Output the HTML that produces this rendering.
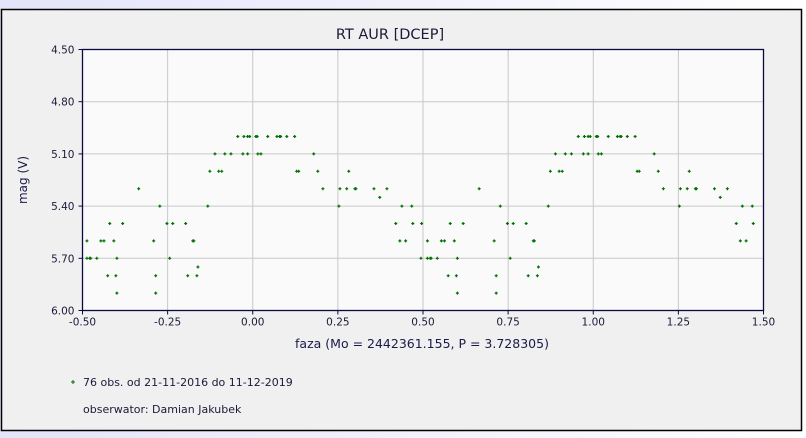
<!DOCTYPE html>
<html><head><meta charset="utf-8">
<style>
html,body{margin:0;padding:0;width:806px;height:438px;overflow:hidden;background:linear-gradient(90deg,#e4e4fa,#ffffff);}
svg{display:block;font-family:"DejaVu Sans","Liberation Sans",sans-serif;}
</style></head>
<body>
<svg id="chart" width="806" height="438">
<rect x="1.5" y="9.5" width="800" height="421" fill="#f0f0f0" stroke="#000" stroke-width="1.5"/>
<text x="390" y="39" text-anchor="middle" font-size="14.5" fill="#1a1a3a">RT AUR [DCEP]</text>
<rect x="82.5" y="49.5" width="681" height="261" fill="#fafafa"/>
<g id="grid"></g>
<g id="pts"></g>
<rect x="82.5" y="49.5" width="681" height="261" fill="none" stroke="#0a0a40" stroke-width="1.3"/>
<g id="axes"></g>
<text x="27" y="180" transform="rotate(-90 27 180)" text-anchor="middle" font-size="12" fill="#1a1a4a">mag (V)</text>
<text x="422" y="348" text-anchor="middle" font-size="12.5" fill="#1a1a4a">faza (Mo = 2442361.155, P = 3.728305)</text>
<g>
<path d="M71,382H75M73,380V384" stroke="#007000" stroke-width="1"/>
<text x="83" y="386" font-size="11" fill="#1a1a3a">76 obs. od 21-11-2016 do 11-12-2019</text>
</g>
<text x="83" y="413" font-size="11" fill="#1a1a3a">obserwator: Damian Jakubek</text>
</svg>
<script>
const phases=[-0.044,-0.026,-0.015,-0.009,0.009,0.013,0.044,0.071,0.079,0.082,0.100,0.123,
-0.111,-0.082,-0.064,-0.029,-0.015,0.015,0.024,0.179,
-0.126,-0.100,-0.091,0.129,0.135,0.191,0.282,
-0.335,0.206,0.256,0.276,0.300,0.303,0.356,0.394,
0.373,
-0.273,-0.132,0.253,0.438,0.467,
-0.420,-0.382,-0.252,-0.235,-0.197,0.420,0.470,0.496,
-0.487,-0.446,-0.437,-0.408,-0.291,-0.176,-0.173,0.432,0.449,
-0.487,-0.479,-0.476,-0.458,-0.399,-0.244,0.494,
-0.161,
-0.426,-0.402,-0.285,-0.191,-0.164,
-0.399,-0.285];
const mags=[5.0,5.0,5.0,5.0,5.0,5.0,5.0,5.0,5.0,5.0,5.0,5.0,
5.1,5.1,5.1,5.1,5.1,5.1,5.1,5.1,
5.2,5.2,5.2,5.2,5.2,5.2,5.2,
5.3,5.3,5.3,5.3,5.3,5.3,5.3,5.3,
5.35,
5.4,5.4,5.4,5.4,5.4,
5.5,5.5,5.5,5.5,5.5,5.5,5.5,5.5,
5.6,5.6,5.6,5.6,5.6,5.6,5.6,5.6,5.6,
5.7,5.7,5.7,5.7,5.7,5.7,5.7,
5.75,
5.8,5.8,5.8,5.8,5.8,
5.9,5.9];
const xTicks=[-0.5,-0.25,0,0.25,0.5,0.75,1.0,1.25,1.5];
const xTickLabels=["-0.50","-0.25","0.00","0.25","0.50","0.75","1.00","1.25","1.50"];
const yTicks=[4.5,4.8,5.1,5.4,5.7,6.0];
const yTickLabels=["4.50","4.80","5.10","5.40","5.70","6.00"];
const X0=82.5,X1=763.5,Y0=49.5,Y1=310.5;
const xs=p=>X0+(p+0.5)/2*(X1-X0);
const ys=m=>Y0+(m-4.5)/1.5*(Y1-Y0);
const NS="http://www.w3.org/2000/svg";
const grid=document.getElementById('grid'),axes=document.getElementById('axes'),pts=document.getElementById('pts');
function mk(tag,a,parent){const e=document.createElementNS(NS,tag);for(const k in a)e.setAttribute(k,a[k]);parent.appendChild(e);return e;}
xTicks.forEach((t,i)=>{
  const x=xs(t);
  if(i>0&&i<xTicks.length-1){const g=mk('line',{x1:x,x2:x,y1:Y0,y2:Y1,stroke:'#c8c8c8','stroke-width':1},grid);
  
  }
  const tk=mk('line',{x1:x,x2:x,y1:Y1,y2:Y1+4,stroke:'#0a0a40'},axes);
  
  
  const tx=mk('text',{x:x,y:Y1+15,'text-anchor':'middle','font-size':10.5,fill:'#1a1a3a'},axes);
  tx.textContent=xTickLabels[i];
  
  
});
yTicks.forEach((t,i)=>{
  const y=ys(t);
  if(i>0&&i<yTicks.length-1){const g=mk('line',{x1:X0,x2:X1,y1:y,y2:y,stroke:'#c8c8c8','stroke-width':1},grid);
  
  }
  const tk=mk('line',{x1:X0-4,x2:X0,y1:y,y2:y,stroke:'#0a0a40'},axes);
  
  
  const tx=mk('text',{x:X0-8,y:y+4,'text-anchor':'end','font-size':10.5,fill:'#1a1a3a'},axes);
  tx.textContent=yTickLabels[i];
  
  
});
phases.forEach((p,i)=>{
  [p,p+1].forEach(q=>{
    if(q<-0.5||q>1.49)return;
    const x=xs(q),y=ys(mags[i]);
    const d=`M${x-1.5},${y}H${x+1.5}M${x},${y-1.5}V${y+1.5}`;
    const e=mk('path',{d:d,stroke:'#007000','stroke-width':1.2,fill:'none'},pts);
    
    
  });
});
</script>
</body></html>
